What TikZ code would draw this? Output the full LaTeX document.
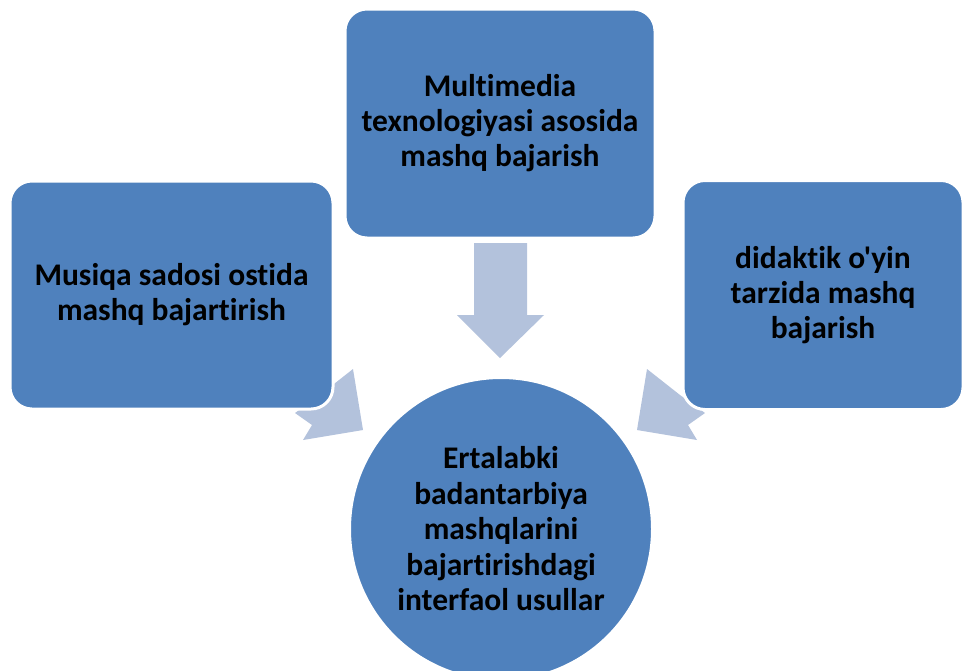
\documentclass[tikz,border=0pt]{standalone}
\usepackage{fontspec}
\newfontfamily\boxfont{Carlito}[Ligatures=NoCommon]
\definecolor{boxblue}{RGB}{79,129,189}
\definecolor{arrowblue}{RGB}{179,194,220}
\begin{document}
\begin{tikzpicture}[
  x=1pt, y=-1pt,
  box/.style={rectangle, rounded corners=22pt, fill=boxblue, draw=white, line width=3pt,
    align=center, font=\boxfont\bfseries\fontsize{31.5}{35}\selectfont},
  hub/.style={circle, fill=boxblue, draw=white, line width=3pt, minimum size=303pt,
    align=center, font=\boxfont\bfseries\fontsize{31.5}{35.5}\selectfont},
  blockarrow/.style={fill=arrowblue}
]
\useasboundingbox (0,0) rectangle (963,670);
% arrows first, boxes lie over their tails
\fill[blockarrow] (474,243) -- (527,243) -- (527,315) -- (544,315) -- (500,358)
  -- (457,315) -- (474,315) -- cycle;
\fill[blockarrow] (353,369) -- (363,430) -- (303,440) -- (312,425) -- (295,413)
  -- (320,395) -- cycle;
\fill[blockarrow] (647,369) -- (637,430) -- (697,440) -- (688,425) -- (705,413)
  -- (680,395) -- cycle;
\begin{scope}
\clip (0,0) rectangle (963,670);
\node[box, minimum width=310pt, minimum height=229pt] (media) at (500,123.5)
  {Multimedia\\texnologiyasi asosida\\mashq bajarish};
\node[box, minimum width=323pt, minimum height=228pt] (music) at (171.5,295)
  {Musiqa sadosi ostida\\mashq bajartirish};
\node[box, minimum width=280pt, minimum height=229pt] (game) at (823,295)
  {didaktik o'yin\\tarzida mashq\\bajarish};
\node[hub] (core) at (501,529)
  {Ertalabki\\badantarbiya\\mashqlarini\\bajartirishdagi\\interfaol usullar};
\end{scope}
\end{tikzpicture}
\end{document}
